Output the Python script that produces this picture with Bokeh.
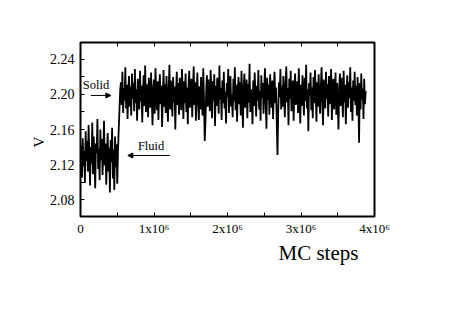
import math
from bokeh.plotting import figure
from bokeh.models import (Range1d, FixedTicker, LinearAxis, Label, Arrow, NormalHead,
                          Title, CustomJSTickFormatter)
from bokeh.embed import file_html
from bokeh.resources import INLINE

# Monte Carlo run: volume per particle V vs MC steps (one sample every 10^4 steps)
step = 10000
v_fluid = [2.128, 2.142, 2.105, 2.150, 2.118, 2.136, 2.099, 2.158, 2.124, 2.147,
           2.112, 2.165, 2.131, 2.096, 2.140, 2.121, 2.168, 2.109, 2.152, 2.127,
           2.093, 2.144, 2.133, 2.172, 2.115, 2.138, 2.102, 2.160, 2.125, 2.149,
           2.108, 2.135, 2.170, 2.119, 2.144, 2.097, 2.130, 2.156, 2.112, 2.139,
           2.088, 2.148, 2.123, 2.162, 2.104, 2.137, 2.091, 2.152, 2.117, 2.143,
           2.098]
v_transition = [2.135, 2.160, 2.182, 2.205]
v_solid = [
    2.214, 2.188, 2.226, 2.179, 2.207, 2.193, 2.231, 2.184, 2.211, 2.172, 2.203, 2.221, 2.186, 2.209, 2.176, 2.224, 2.195, 2.213, 2.181, 2.229,
    2.190, 2.206, 2.170, 2.218, 2.199, 2.183, 2.227, 2.192, 2.210, 2.168, 2.204, 2.222, 2.187, 2.233, 2.180, 2.212, 2.196, 2.174, 2.219, 2.201,
    2.185, 2.225, 2.193, 2.165, 2.208, 2.217, 2.178, 2.230, 2.197, 2.182, 2.215, 2.171, 2.205, 2.223, 2.189, 2.210, 2.163, 2.200, 2.228, 2.186,
    2.212, 2.179, 2.221, 2.194, 2.169, 2.207, 2.234, 2.183, 2.216, 2.198, 2.175, 2.220, 2.191, 2.209, 2.160, 2.202, 2.226, 2.188, 2.213, 2.177,
    2.219, 2.196, 2.182, 2.229, 2.203, 2.172, 2.215, 2.190, 2.224, 2.180, 2.208, 2.166, 2.211, 2.227, 2.185, 2.200, 2.218, 2.174, 2.206, 2.232,
    2.188, 2.214, 2.170, 2.201, 2.225, 2.192, 2.171, 2.209, 2.183, 2.220, 2.197, 2.176, 2.230, 2.195, 2.147, 2.168, 2.204, 2.222, 2.186, 2.217,
    2.199, 2.181, 2.228, 2.206, 2.173, 2.215, 2.193, 2.223, 2.164, 2.210, 2.187, 2.219, 2.201, 2.178, 2.233, 2.194, 2.207, 2.171, 2.216, 2.190,
    2.226, 2.184, 2.203, 2.167, 2.213, 2.197, 2.229, 2.179, 2.208, 2.221, 2.186, 2.200, 2.174, 2.218, 2.192, 2.231, 2.182, 2.211, 2.169, 2.205,
    2.220, 2.189, 2.214, 2.176, 2.227, 2.195, 2.162, 2.209, 2.224, 2.185, 2.202, 2.217, 2.173, 2.212, 2.191, 2.235, 2.180, 2.206, 2.198, 2.166,
    2.216, 2.187, 2.225, 2.200, 2.175, 2.210, 2.193, 2.228, 2.183, 2.204, 2.170, 2.222, 2.196, 2.213, 2.178, 2.207, 2.230, 2.189, 2.161, 2.219,
    2.194, 2.211, 2.177, 2.223, 2.199, 2.185, 2.216, 2.172, 2.205, 2.226, 2.190, 2.208, 2.168, 2.131, 2.180, 2.214, 2.197, 2.229, 2.183, 2.210,
    2.186, 2.221, 2.200, 2.174, 2.213, 2.232, 2.191, 2.207, 2.165, 2.218, 2.195, 2.227, 2.181, 2.203, 2.216, 2.170, 2.209, 2.224, 2.188, 2.201,
    2.215, 2.179, 2.230, 2.196, 2.167, 2.211, 2.187, 2.222, 2.202, 2.176, 2.219, 2.193, 2.234, 2.184, 2.206, 2.158, 2.213, 2.198, 2.225, 2.182,
    2.208, 2.173, 2.220, 2.190, 2.228, 2.203, 2.169, 2.214, 2.186, 2.223, 2.197, 2.178, 2.210, 2.231, 2.192, 2.165, 2.217, 2.201, 2.184, 2.226,
    2.195, 2.212, 2.175, 2.221, 2.189, 2.207, 2.229, 2.171, 2.204, 2.218, 2.183, 2.200, 2.225, 2.177, 2.213, 2.192, 2.160, 2.209, 2.224, 2.187,
    2.219, 2.198, 2.174, 2.227, 2.191, 2.211, 2.166, 2.205, 2.222, 2.185, 2.214, 2.196, 2.231, 2.180, 2.208, 2.170, 2.216, 2.193, 2.226, 2.188,
    2.210, 2.176, 2.220, 2.199, 2.145, 2.213, 2.183, 2.224, 2.194, 2.207, 2.172, 2.218, 2.189, 2.204]

v_all = v_fluid + v_transition + v_solid
mc_steps = [i * step for i in range(len(v_all))]

x_ticks = [0, 1000000, 2000000, 3000000, 4000000]
x_minor = [500000, 1500000, 2500000, 3500000]
x_labels = ["0", "1x10\u2076", "2x10\u2076", "3x10\u2076", "4x10\u2076"]
y_ticks = [2.08, 2.12, 2.16, 2.20, 2.24]
y_minor = [2.06, 2.10, 2.14, 2.18, 2.22]
y_labels = ["2.08", "2.12", "2.16", "2.20", "2.24"]

FONT = "Liberation Serif"

p = figure(frame_width=294, frame_height=174,
           x_range=Range1d(0, 4000000), y_range=Range1d(2.0606, 2.2594),
           output_backend="svg", toolbar_location=None,
           min_border_left=80, min_border_top=42, min_border_right=70, min_border_bottom=70)
p.background_fill_color = "white"
p.border_fill_color = "white"
p.outline_line_color = "black"
p.outline_line_width = 2
p.xgrid.visible = False
p.ygrid.visible = False

p.line(mc_steps, v_all, line_color="black", line_width=1.8)

# x axis (bottom)
xa = p.xaxis[0]
xa.ticker = FixedTicker(ticks=x_ticks, minor_ticks=x_minor)
xa.major_label_overrides = {t: l for t, l in zip(x_ticks, x_labels)}
xa.axis_line_color = None
xa.major_tick_in = 4
xa.major_tick_out = 0
xa.minor_tick_in = 4
xa.minor_tick_out = 0
xa.major_label_text_font = FONT
xa.major_label_text_font_size = "13px"
xa.major_label_text_color = "black"
xa.major_label_standoff = 4

# top axis: ticks only, no labels
ta = LinearAxis(ticker=FixedTicker(ticks=x_ticks, minor_ticks=x_minor),
                formatter=CustomJSTickFormatter(code="return ''"))
ta.axis_line_color = None
ta.major_tick_in = 4
ta.major_tick_out = 0
ta.minor_tick_in = 4
ta.minor_tick_out = 0
ta.major_label_standoff = 0
p.add_layout(ta, "above")

# y axis (left)
ya = p.yaxis[0]
ya.ticker = FixedTicker(ticks=y_ticks, minor_ticks=y_minor)
ya.major_label_overrides = {t: l for t, l in zip(y_ticks, y_labels)}
ya.axis_line_color = None
ya.major_tick_in = 4
ya.major_tick_out = 0
ya.minor_tick_in = 4
ya.minor_tick_out = 0
ya.major_label_text_font = FONT
ya.major_label_text_font_size = "14px"
ya.major_label_text_color = "black"
ya.major_label_standoff = 6

# axis titles placed like the reference
p.add_layout(Title(text="V", align="left", offset=69, standoff=0,
                   text_font=FONT, text_font_size="15px", text_font_style="normal",
                   text_color="black"), "left")
p.add_layout(Title(text="MC steps", align="left", offset=198, standoff=0,
                   text_font=FONT, text_font_size="21px", text_font_style="normal",
                   text_color="black"), "below")

# annotations
p.add_layout(Label(x=31000, y=2.2103, text="Solid", text_align="left", text_baseline="middle",
                   text_font=FONT, text_font_size="12.5px", text_color="black"))
p.add_layout(Arrow(x_start=140000, y_start=2.1989, x_end=413000, y_end=2.1989,
                   line_color="black", line_width=1,
                   end=NormalHead(size=5, fill_color="black", line_color="black")))
p.add_layout(Label(x=781000, y=2.1417, text="Fluid", text_align="left", text_baseline="middle",
                   text_font=FONT, text_font_size="12.5px", text_color="black"))
p.add_layout(Arrow(x_start=1217000, y_start=2.1303, x_end=644000, y_end=2.1303,
                   line_color="black", line_width=1,
                   end=NormalHead(size=5, fill_color="black", line_color="black")))

open("out.html", "w").write(file_html(p, INLINE))
